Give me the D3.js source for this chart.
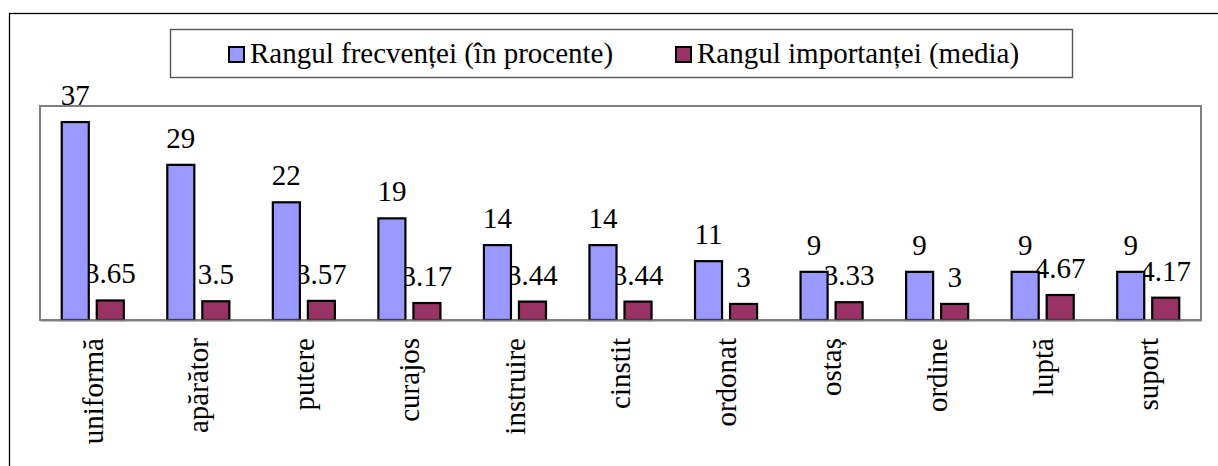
<!DOCTYPE html>
<html><head><meta charset="utf-8"><script src="https://cdn.jsdelivr.net/npm/d3@7"></script></head>
<body style="margin:0">
<svg id="chart" width="1218" height="466"></svg>
<script>
// Category words and the two ranked series
const categories = ["uniformă", "apărător", "putere", "curajos", "instruire", "cinstit",
                    "ordonat", "ostaș", "ordine", "luptă", "suport"];
const seriesNames = ["Rangul frecvenței (în procente)", "Rangul importanței (media)"];
const frecventa = [37, 29, 22, 19, 14, 14, 11, 9, 9, 9, 9];
const importanta = [3.65, 3.5, 3.57, 3.17, 3.44, 3.44, 3, 3.33, 3, 4.67, 4.17];
const seriesColors = ["#9999FF", "#993366"];

const fontSize = 29;
const svg = d3.select("#chart");

// Shared look of every label: a Times-metric serif face
function labelText(sel) {
  sel.attr("font-size", fontSize)
     .attr("fill", "#000")
     .style("font-family", '"Tinos", "Nimbus Roman", "FreeSerif", "Liberation Serif"');
}

// Plot-area geometry
const plot = { left: 40, top: 106, right: 1201, bottom: 320 };

// Outer chart frame (runs past the right and bottom edges)
svg.append("rect")
  .attr("x", 9.5).attr("y", 13.5)
  .attr("width", 1300).attr("height", 600)
  .attr("fill", "none").attr("stroke", "#000").attr("stroke-width", 1.3);

// Plot-area border
svg.append("rect")
  .attr("x", plot.left).attr("y", plot.top)
  .attr("width", plot.right - plot.left).attr("height", plot.bottom - plot.top)
  .attr("fill", "#fff").attr("stroke", "#808080").attr("stroke-width", 2);

const x0 = d3.scaleBand()
  .domain(categories)
  .range([plot.left, plot.right])
  .paddingInner(0.393)
  .paddingOuter(0.1965);

const x1 = d3.scaleBand()
  .domain([0, 1])
  .range([0, x0.bandwidth()])
  .paddingInner(0.171)
  .paddingOuter(0);

const y = d3.scaleLinear().domain([0, 40]).range([plot.bottom, plot.top]);

const rows = categories.map((c, i) => ({ cat: c, vals: [frecventa[i], importanta[i]] }));
const groups = svg.append("g").selectAll("g")
  .data(rows).join("g")
  .attr("transform", d => `translate(${x0(d.cat)},0)`);

// Value labels (drawn beneath the bars, as in the original layering)
groups.selectAll("text.val")
  .data(d => d.vals.map((v, s) => ({ v, s })))
  .join("text")
  .attr("class", "val")
  .attr("x", d => x1(d.s) + x1.bandwidth() / 2)
  .attr("y", d => y(d.v) - 17)
  .attr("text-anchor", "middle")
  .call(labelText)
  .text(d => d.v);

// Bars
groups.selectAll("rect")
  .data(d => d.vals.map((v, s) => ({ v, s })))
  .join("rect")
  .attr("x", d => x1(d.s) + 1)
  .attr("y", d => y(d.v))
  .attr("width", x1.bandwidth() - 2)
  .attr("height", d => y(0) - y(d.v))
  .attr("fill", d => seriesColors[d.s])
  .attr("stroke", "#000")
  .attr("stroke-width", 2.2);

// Category axis: baseline plus rotated labels
const ax = svg.append("g")
  .attr("transform", `translate(0,${plot.bottom})`)
  .call(d3.axisBottom(x0).tickSize(0).tickPadding(0));
ax.attr("font-family", null).attr("font-size", null);
ax.select(".domain").attr("stroke", "#808080").attr("stroke-width", 2);
ax.selectAll(".tick text")
  .attr("text-anchor", "end")
  .attr("transform", "rotate(-90)")
  .attr("x", -18)
  .attr("y", 0)
  .attr("dy", "0.34em")
  .call(labelText);

// Legend box with two swatch + caption items
const legend = { x: 170, y: 29, w: 902, h: 48 };
svg.append("rect")
  .attr("x", legend.x + 0.5).attr("y", legend.y + 0.5)
  .attr("width", legend.w).attr("height", legend.h)
  .attr("fill", "#fff").attr("stroke", "#555").attr("stroke-width", 1.4);

const itemX = [229, 676];
const items = svg.append("g").selectAll("g").data(seriesNames).join("g")
  .attr("transform", (d, i) => `translate(${itemX[i]},63)`);
items.append("rect")
  .attr("x", 0).attr("y", -16)
  .attr("width", 15).attr("height", 15)
  .attr("fill", (d, i) => seriesColors[i])
  .attr("stroke", "#000").attr("stroke-width", 2);
items.append("text")
  .attr("x", 21).attr("y", 0)
  .call(labelText)
  .text(d => d);
</script>
</body>
</html>
